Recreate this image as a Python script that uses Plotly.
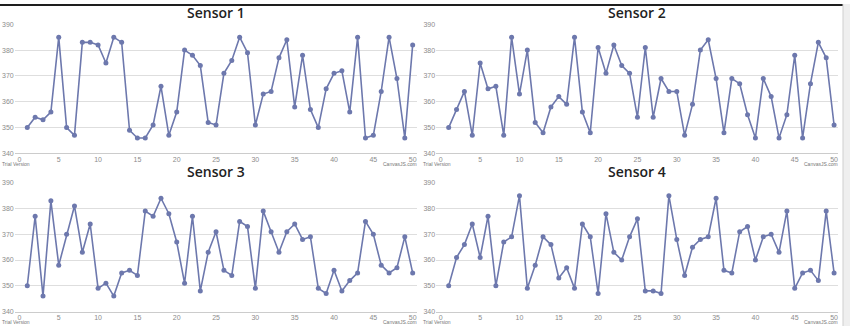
import plotly.graph_objects as go

trial = list(range(1, 51))
sensor1 = [350, 354, 353, 356, 385, 350, 347, 383, 383, 382,
           375, 385, 383, 349, 346, 346, 351, 366, 347, 356,
           380, 378, 374, 352, 351, 371, 376, 385, 379, 351,
           363, 364, 377, 384, 358, 378, 357, 350, 365, 371,
           372, 356, 385, 346, 347, 364, 385, 369, 346, 382]
sensor2 = [350, 357, 364, 347, 375, 365, 366, 347, 385, 363,
           380, 352, 348, 358, 362, 359, 385, 356, 348, 381,
           371, 382, 374, 371, 354, 381, 354, 369, 364, 364,
           347, 359, 380, 384, 369, 348, 369, 367, 355, 346,
           369, 362, 346, 355, 378, 346, 367, 383, 377, 351]
sensor3 = [350, 377, 346, 383, 358, 370, 381, 363, 374, 349,
           351, 346, 355, 356, 354, 379, 377, 384, 378, 367,
           351, 377, 348, 363, 371, 356, 354, 375, 373, 349,
           379, 371, 363, 371, 374, 368, 369, 349, 347, 356,
           348, 352, 355, 375, 370, 358, 355, 357, 369, 355]
sensor4 = [350, 361, 366, 374, 361, 377, 350, 367, 369, 385,
           349, 358, 369, 366, 353, 357, 349, 374, 369, 347,
           378, 363, 360, 369, 376, 348, 348, 347, 385, 368,
           354, 365, 368, 369, 384, 356, 355, 371, 373, 360,
           369, 370, 363, 379, 349, 355, 356, 352, 379, 355]
titles = ["Sensor 1", "Sensor 2", "Sensor 3", "Sensor 4"]
series = [sensor1, sensor2, sensor3, sensor4]

W, H = 850, 329
LINE = "#6D78AD"
GRID = "#dedede"
LBL = "#8c8c8c"

# panel pixel boxes: (left, right, top, bottom)
boxes = [(14.7, 416.6, 20.7, 152.7), (436.1, 838.0, 20.7, 152.7),
         (14.7, 416.6, 182.7, 314.2), (436.1, 838.0, 182.7, 314.2)]

fig = go.Figure()
annotations = []
for i, (name, vals) in enumerate(zip(titles, series)):
    n = i + 1
    xa = "x" if n == 1 else f"x{n}"
    ya = "y" if n == 1 else f"y{n}"
    fig.add_trace(go.Scatter(
        x=trial, y=vals, mode="lines+markers", xaxis=xa, yaxis=ya,
        line=dict(color=LINE, width=1.6),
        marker=dict(color=LINE, size=5),
        showlegend=False, hoverinfo="x+y"))
    l, r, t, b = boxes[i]
    xdom = [l / W, r / W]
    ydom = [1 - b / H, 1 - t / H]
    xkey = "xaxis" if n == 1 else f"xaxis{n}"
    ykey = "yaxis" if n == 1 else f"yaxis{n}"
    fig.update_layout(**{
        xkey: dict(domain=xdom, range=[-0.6, 50.5], anchor=ya,
                   tickmode="linear", tick0=0, dtick=5,
                   showgrid=False, zeroline=False,
                   showline=True, linecolor="#cccccc", linewidth=1,
                   ticks="", ticklabelstandoff=-1,
                   tickfont=dict(family="Arial", size=7, color=LBL)),
        ykey: dict(domain=ydom, range=[340, 390], anchor=xa,
                   tickmode="linear", tick0=340, dtick=10,
                   showgrid=True, gridcolor=GRID, gridwidth=1,
                   zeroline=False, showline=False, ticks="",
                   tickfont=dict(family="Arial", size=7, color=LBL)),
    })
    annotations.append(dict(
        text=name, x=(l + r) / 2 / W, y=1 - (t - 12) / H,
        xref="paper", yref="paper", xanchor="center", yanchor="middle",
        showarrow=False,
        font=dict(family="Open Sans", size=14, color="#222222", weight=600)))
    foot_y = 1 - (b + 10.5) / H
    annotations.append(dict(
        text="Trial Version", x=(l - 14) / W, y=foot_y, borderpad=0,
        xref="paper", yref="paper", xanchor="left", yanchor="middle",
        showarrow=False, font=dict(family="Arial", size=5, color="#777")))
    annotations.append(dict(
        text="CanvasJS.com", x=(r + 1) / W, y=foot_y, borderpad=0,
        xref="paper", yref="paper", xanchor="right", yanchor="middle",
        showarrow=False, font=dict(family="Arial", size=5, color="#777")))

shapes = [
    dict(type="rect", xref="paper", yref="paper", x0=0, x1=843 / W,
         y0=1 - 2 / H, y1=1, fillcolor="#1e1e1e", line=dict(width=0), layer="above"),
    dict(type="rect", xref="paper", yref="paper", x0=843 / W, x1=1,
         y0=0, y1=1, fillcolor="#efefef", line=dict(width=0), layer="above"),
    dict(type="line", xref="paper", yref="paper", x0=843 / W, x1=843 / W,
         y0=0, y1=1, line=dict(color="#cfcfcf", width=1), layer="above"),
]

fig.update_layout(
    width=W, height=H, margin=dict(l=0, r=0, t=0, b=0),
    paper_bgcolor="white", plot_bgcolor="white",
    annotations=annotations, shapes=shapes,
)
fig.write_html("out.html")
